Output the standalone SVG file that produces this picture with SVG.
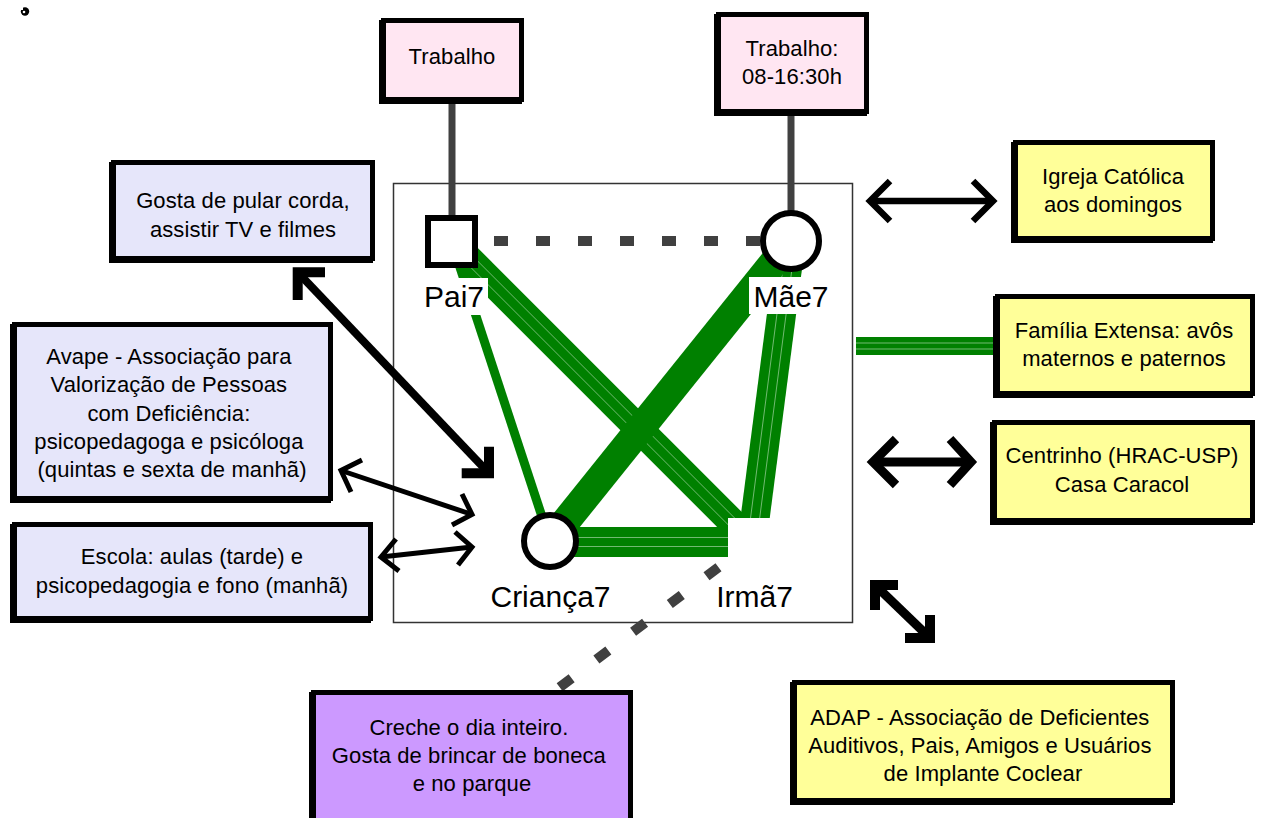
<svg xmlns="http://www.w3.org/2000/svg" width="1262" height="818" viewBox="0 0 1262 818">
  <style>
    text { font-family: "Liberation Sans", Arial, sans-serif; fill: #000; text-anchor: middle; }
    .t { font-size: 22px; letter-spacing: 0.1px; }
    .lbl { font-size: 30px; }
    .bx { stroke: #000; stroke-width: 5; }
    .sh { fill: #000; stroke: #000; stroke-width: 5; }
    .pink { fill: #ffe6f2; }
    .lav { fill: #e6e6fa; }
    .yel { fill: #ffff99; }
    .pur { fill: #cc99ff; }
    .g { stroke: #008000; fill: none; }
    .sep { stroke: #8fc98f; stroke-width: 0.8; fill: none; }
    .dash { stroke: #404040; stroke-width: 10; fill: none; }
    .tie { stroke: #404040; stroke-width: 7; fill: none; }
    .arr { stroke: #000; fill: none; stroke-linejoin: miter; stroke-miterlimit: 10; }
    .bg { fill: #fff; }
  </style>

  <!-- small mark in the corner -->
  <g id="mark">
    <circle cx="25" cy="11.5" r="4.2" fill="#000"/>
    <circle cx="24" cy="12" r="1.3" fill="#fff"/>
    <rect x="20" y="7" width="3" height="3" fill="#fff"/>
  </g>

  <!-- household frame -->
  <rect id="frame" x="393.5" y="183.5" width="459" height="439" fill="none" stroke="#333" stroke-width="1.5"/>

  <g id="connectors">
    <!-- work ties -->
    <line class="tie" x1="452" y1="102" x2="452" y2="220"/>
    <line class="tie" x1="791" y1="114" x2="791" y2="214"/>

    <!-- family bonds -->
    <line class="g" stroke-width="9" x1="451.5" y1="241.5" x2="550" y2="541"/>
    <line class="g" stroke-width="28" x1="451.5" y1="241.5" x2="752" y2="542"/>
    <line class="sep" x1="448.2" y1="244.8" x2="748.7" y2="545.3"/>
    <line class="sep" x1="454.8" y1="238.2" x2="755.3" y2="538.7"/>
    <line class="g" stroke-width="29" x1="791" y1="241" x2="752" y2="542"/>
    <line class="sep" x1="795.5" y1="241.6" x2="756.5" y2="542.6"/>
    <line class="sep" x1="786.5" y1="240.4" x2="747.5" y2="541.4"/>
    <line class="g" stroke-width="30" x1="550" y1="542" x2="752" y2="542"/>
    <line class="sep" x1="550" y1="537.5" x2="752" y2="537.5"/>
    <line class="sep" x1="550" y1="546.5" x2="752" y2="546.5"/>
    <line class="g" stroke-width="29" x1="791" y1="241" x2="550" y2="541"/>

    <!-- extended family -->
    <line class="g" stroke-width="18" x1="856" y1="346" x2="994" y2="346"/>
    <line class="sep" x1="856" y1="343" x2="994" y2="343"/>
    <line class="sep" x1="856" y1="349" x2="994" y2="349"/>

    <!-- weak links -->
    <line class="dash" x1="494" y1="241" x2="762" y2="241" stroke-dasharray="14 28"/>
    <line class="dash" x1="752" y1="542" x2="556" y2="690" stroke-dasharray="15 31" stroke-dashoffset="4"/>

    <!-- exchanges -->
    <g class="arr">
      <line stroke-width="8" x1="297.7" y1="272.3" x2="489" y2="473.3"/>
      <path stroke-width="10" d="M325,272.3 H297.7 V300"/>
      <path stroke-width="10" d="M461.7,473.3 H489 V446.7"/>

      <line stroke-width="5" x1="341" y1="470.5" x2="472" y2="514.5"/>
      <path stroke-width="5" d="M362,460 L341,470.5 L351,492"/>
      <path stroke-width="5" d="M452,525 L472,514.5 L462,494"/>

      <line stroke-width="5" x1="381" y1="557" x2="472" y2="547"/>
      <path stroke-width="5" d="M396,539 L381,557 L399,571"/>
      <path stroke-width="5" d="M455,532 L472,547 L458,565"/>

      <line stroke-width="6.5" x1="870" y1="201" x2="993" y2="201"/>
      <path stroke-width="6.5" d="M890,181 L870,201 L890,221"/>
      <path stroke-width="6.5" d="M973,181 L993,201 L973,221"/>

      <line stroke-width="9" x1="873" y1="462" x2="971" y2="462"/>
      <path stroke-width="9" d="M896,439 L873,462 L896,485"/>
      <path stroke-width="9" d="M950,439 L971,462 L950,485"/>

      <line stroke-width="9" x1="875" y1="585" x2="930" y2="638"/>
      <path stroke-width="10" d="M898,585 H875 V610"/>
      <path stroke-width="10" d="M930,615 V638 H905"/>
    </g>
  </g>

  <!-- people -->
  <g id="pai">
    <rect x="428" y="218" width="47" height="47" fill="#fff" stroke="#000" stroke-width="6"/>
    <rect class="bg" x="420" y="278" width="68" height="37"/>
    <text class="lbl" x="454" y="307">Pai7</text>
  </g>
  <g id="mae">
    <circle cx="791" cy="241" r="28" fill="#fff" stroke="#000" stroke-width="6"/>
    <rect class="bg" x="749" y="277" width="83" height="37"/>
    <text class="lbl" x="791" y="307">Mãe7</text>
  </g>
  <g id="crianca">
    <circle cx="550" cy="541" r="26" fill="#fff" stroke="#000" stroke-width="6"/>
    <text class="lbl" x="550.5" y="607">Criança7</text>
  </g>
  <g id="irma">
    <rect x="728" y="518" width="48" height="48" fill="#fff"/>
    <text class="lbl" x="754.5" y="607">Irmã7</text>
  </g>

  <!-- context boxes -->
  <g id="trabalho-pai">
    <rect class="sh" x="383.5" y="20.5" width="138" height="79" transform="translate(-2 2)"/>
    <rect class="bx pink" x="383.5" y="20.5" width="138" height="79"/>
    <text class="t" x="452" y="64">Trabalho</text>
  </g>
  <g id="trabalho-mae">
    <rect class="sh" x="718.5" y="14.5" width="148" height="97" transform="translate(-2 2)"/>
    <rect class="bx pink" x="718.5" y="14.5" width="148" height="97"/>
    <text class="t"><tspan x="792" y="56">Trabalho:</tspan><tspan x="792" y="84">08-16:30h</tspan></text>
  </g>
  <g id="gosta">
    <rect class="sh" x="113.5" y="162.5" width="259" height="96" transform="translate(-2 2)"/>
    <rect class="bx lav" x="113.5" y="162.5" width="259" height="96"/>
    <text class="t"><tspan x="243" y="208">Gosta de pular corda,</tspan><tspan x="243" y="237">assistir TV e filmes</tspan></text>
  </g>
  <g id="avape">
    <rect class="sh" x="14.5" y="324.5" width="316" height="174" transform="translate(-2 2)"/>
    <rect class="bx lav" x="14.5" y="324.5" width="316" height="174"/>
    <text class="t">
      <tspan x="172" y="364">Avape - Associação para</tspan>
      <tspan x="172" y="392.3">Valorização de Pessoas</tspan>
      <tspan x="172" y="420.7">com Deficiência:</tspan>
      <tspan x="172" y="449">psicopedagoga e psicóloga</tspan>
      <tspan x="172" y="477.3">(quintas e sexta de manhã)</tspan>
    </text>
  </g>
  <g id="escola">
    <rect class="sh" x="14.5" y="524.5" width="356" height="94" transform="translate(-2 2)"/>
    <rect class="bx lav" x="14.5" y="524.5" width="356" height="94"/>
    <text class="t"><tspan x="192" y="564">Escola: aulas (tarde) e</tspan><tspan x="192" y="592.7">psicopedagogia e fono (manhã)</tspan></text>
  </g>
  <g id="igreja">
    <rect class="sh" x="1015.5" y="142.5" width="197" height="96" transform="translate(-2 2)"/>
    <rect class="bx yel" x="1015.5" y="142.5" width="197" height="96"/>
    <text class="t"><tspan x="1113" y="184">Igreja Católica</tspan><tspan x="1113" y="211.7">aos domingos</tspan></text>
  </g>
  <g id="familia">
    <rect class="sh" x="997.5" y="296.5" width="255" height="97" transform="translate(-2 2)"/>
    <rect class="bx yel" x="997.5" y="296.5" width="255" height="97"/>
    <text class="t"><tspan x="1124" y="338.3">Família Extensa: avôs</tspan><tspan x="1124" y="366">maternos e paternos</tspan></text>
  </g>
  <g id="centrinho">
    <rect class="sh" x="994.5" y="422.5" width="258" height="98" transform="translate(-2 2)"/>
    <rect class="bx yel" x="994.5" y="422.5" width="258" height="98"/>
    <text class="t"><tspan x="1122" y="463.3">Centrinho (HRAC-USP)</tspan><tspan x="1122" y="491.7">Casa Caracol</tspan></text>
  </g>
  <g id="adap">
    <rect class="sh" x="794.5" y="682.5" width="378" height="118" transform="translate(-2 2)"/>
    <rect class="bx yel" x="794.5" y="682.5" width="378" height="118"/>
    <text class="t">
      <tspan x="983" y="725">ADAP - Associação de Deficientes</tspan>
      <tspan x="983" y="753.3">Auditivos, Pais, Amigos e Usuários</tspan>
      <tspan x="983" y="781">de Implante Coclear</tspan>
    </text>
  </g>
  <g id="creche">
    <rect class="sh" x="313.5" y="692.5" width="317" height="150" transform="translate(-2 2)"/>
    <rect class="bx pur" x="313.5" y="692.5" width="317" height="150"/>
    <text class="t">
      <tspan x="472" y="735">Creche o dia inteiro.</tspan>
      <tspan x="472" y="762.7">Gosta de brincar de boneca</tspan>
      <tspan x="472" y="791">e no parque</tspan>
    </text>
  </g>
</svg>
